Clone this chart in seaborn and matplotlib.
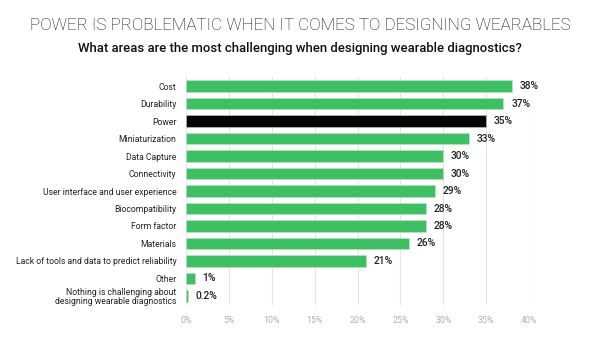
import matplotlib
matplotlib.use("Agg")
import matplotlib.pyplot as plt
import seaborn as sns
import pandas as pd

categories = [
    "Cost", "Durability", "Power", "Miniaturization", "Data Capture",
    "Connectivity", "User interface and user experience", "Biocompatibility",
    "Form factor", "Materials", "Lack of tools and data to predict reliability",
    "Other", "Nothing is challenging about\ndesigning wearable diagnostics",
]
values = [38, 37, 35, 33, 30, 30, 29, 28, 28, 26, 21, 1, 0.2]
value_labels = ["38%", "37%", "35%", "33%", "30%", "30%", "29%", "28%",
                "28%", "26%", "21%", "1%", "0.2%"]
highlight = "Power"
x_ticks = [0, 5, 10, 15, 20, 25, 30, 35, 40]

GREEN = "#3fbf63"
BLACK = "#050505"

sns.set_theme(style="white")
plt.rcParams["font.family"] = ["Roboto", "DejaVu Sans"]

df = pd.DataFrame({"category": categories, "value": values})
palette = {c: (BLACK if c == highlight else GREEN) for c in categories}

fig = plt.figure(figsize=(6, 3.38), dpi=100)
ax = fig.add_axes([0.31, 0.0984, 0.572, 0.673])

sns.barplot(data=df, x="value", y="category", hue="category", palette=palette,
            order=categories, hue_order=categories, legend=False, width=0.68,
            saturation=1, edgecolor="#b8e6c4", linewidth=0.5, ax=ax)
for patch, c in zip(ax.patches, categories):
    if c == highlight:
        patch.set_edgecolor("#bbbbbb")

ax.set_xlim(0, 40)
ax.set_ylim(12.5, -0.5)
ax.set_xticks(x_ticks)
ax.set_xticklabels([f"{t}%" for t in x_ticks], color="#b0b0b0", fontsize=6.4)
ax.tick_params(axis="x", length=0, pad=8)
ax.tick_params(axis="y", length=0, pad=7, labelsize=6.25, labelcolor="#222222")
for lab in ax.get_yticklabels():
    lab.set_linespacing(1.05)
ax.set_xlabel("")
ax.set_ylabel("")
ax.grid(axis="x", color="#e4e4e4", linewidth=0.8)
ax.set_axisbelow(True)
for s in ax.spines.values():
    s.set_visible(False)

for i, (v, lab) in enumerate(zip(values, value_labels)):
    ax.text(v + 0.9, i, lab, va="center", ha="left", fontsize=7.4,
            color="#222222", fontweight="medium")

# Title sized so that it spans 540 px across the figure
title = fig.text(0.5, 0.925, "POWER IS PROBLEMATIC WHEN IT COMES TO DESIGNING WEARABLES",
                 ha="center", va="center", fontsize=14, color="#111111",
                 fontweight="light")
fig.canvas.draw()
w = title.get_window_extent().width
title.set_fontsize(14 * 540 / w)

sub = fig.text(0.5, 0.857, "What areas are the most challenging when designing wearable diagnostics?",
               ha="center", va="center", fontsize=8.5, color="#111111",
               fontweight="medium")
fig.canvas.draw()
w = sub.get_window_extent().width
sub.set_fontsize(8.5 * 446 / w)

fig.savefig("out.png", dpi=100)
